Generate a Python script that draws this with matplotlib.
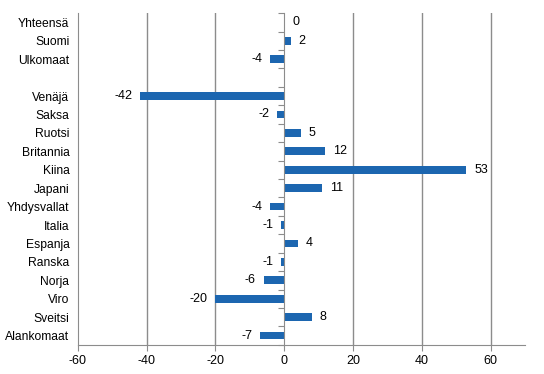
import numpy as np
import matplotlib.pyplot as plt

plt.rcParams['font.family'] = ['Liberation Sans', 'DejaVu Sans']
plt.rcParams['axes.unicode_minus'] = False

# Data
top_labels = ['Yhteensä', 'Suomi', 'Ulkomaat']
top_values = [0.3, 2, -4]
country_labels = ['Venäjä', 'Saksa', 'Ruotsi', 'Britannia', 'Kiina', 'Japani',
                  'Yhdysvallat', 'Italia', 'Espanja', 'Ranska', 'Norja', 'Viro',
                  'Sveitsi', 'Alankomaat']
country_values = [-42, -2, 5, 12, 53, 11, -4, -1, 4, -1, -6, -20, 8, -7]
value_texts = ['0', '2', '-4', '-42', '-2', '5', '12', '53', '11', '-4', '-1',
               '4', '-1', '-6', '-20', '8', '-7']

labels = top_labels + country_labels
values = top_values + country_values
# one empty slot between the totals and the countries
pos = list(range(len(top_labels))) + [len(top_labels) + 1 + i for i in range(len(country_labels))]
n_slots = pos[-1] + 1

bar_color = '#1c66b0'
grid_color = '#8c8c8c'

fig = plt.figure(figsize=(5.44, 3.74), dpi=100)
ax = fig.add_axes([0.143, 0.078, 0.822, 0.887])

ax.barh(pos, values, height=0.42, color=bar_color, zorder=3)

for p, v, t in zip(pos, values, value_texts):
    if v >= 0:
        ax.annotate(t, (v, p), xytext=(5.5, 0), textcoords='offset points',
                    ha='left', va='center', fontsize=9)
    else:
        ax.annotate(t, (v, p), xytext=(-5.5, 0), textcoords='offset points',
                    ha='right', va='center', fontsize=9)

ax.set_xlim(-60, 70)
ax.set_ylim(n_slots - 0.5, -0.5)
ax.set_xticks(np.arange(-60, 61, 20))
ax.set_yticks(pos)
ax.set_yticklabels(labels)
ax.tick_params(axis='y', length=0, labelsize=8.7, pad=6)
ax.tick_params(axis='x', length=4, color=grid_color, labelsize=9)

for g in [-40, -20, 20, 40, 60]:
    ax.axvline(g, color=grid_color, linewidth=1, zorder=1)

for s in ['top', 'right']:
    ax.spines[s].set_visible(False)
for s in ['left', 'bottom']:
    ax.spines[s].set_color(grid_color)

# zero axis with small category separator ticks
ax2 = ax.twinx()
ax2.set_ylim(ax.get_ylim())
ax2.spines['right'].set_position(('data', 0))
ax2.spines['right'].set_color(grid_color)
for s in ['top', 'left', 'bottom']:
    ax2.spines[s].set_visible(False)
ax2.set_yticks(np.arange(-0.5, n_slots, 1))
ax2.tick_params(axis='y', direction='in', length=4, color=grid_color, labelright=False)

fig.savefig('out.png', dpi=100)
